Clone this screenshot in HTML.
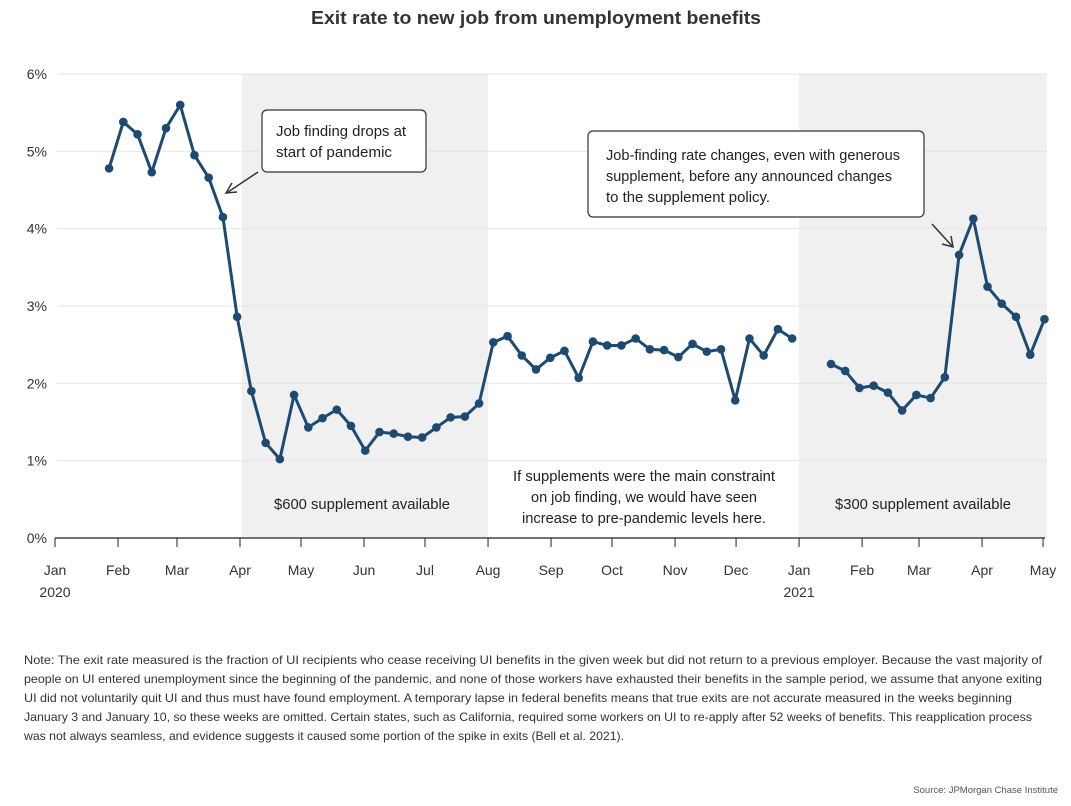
<!DOCTYPE html>
<html><head><meta charset="utf-8"><style>
body{margin:0;background:#fff;width:1071px;height:801px;overflow:hidden;font-family:"Liberation Sans",sans-serif;color:#333}
svg text{font-family:"Liberation Sans",sans-serif}
</style></head><body>
<svg id="c" width="1071" height="801">
<text x="536" y="24" text-anchor="middle" font-size="18" font-weight="bold" fill="#333" textLength="450" lengthAdjust="spacingAndGlyphs">Exit rate to new job from unemployment benefits</text>
<g id="plot"></g>
<g>
<rect x="262" y="110" width="164" height="62" rx="5" fill="#fff" stroke="#333" stroke-width="1.2"/>
<text x="276" y="136" font-size="14.5" fill="#222" textLength="130" lengthAdjust="spacingAndGlyphs">Job finding drops at</text>
<text x="276" y="157" font-size="14.5" fill="#222" textLength="116" lengthAdjust="spacingAndGlyphs">start of pandemic</text>
<line x1="258" y1="172" x2="228" y2="192" stroke="#333" stroke-width="1.5"/>
<polyline points="232,183 226,193 237,192" fill="none" stroke="#333" stroke-width="1.5"/>
</g>
<g>
<rect x="588" y="131" width="336" height="86" rx="5" fill="#fff" stroke="#333" stroke-width="1.2"/>
<text x="606" y="160" font-size="14.5" fill="#222" textLength="294" lengthAdjust="spacingAndGlyphs">Job-finding rate changes, even with generous</text>
<text x="606" y="181" font-size="14.5" fill="#222" textLength="286" lengthAdjust="spacingAndGlyphs">supplement, before any announced changes</text>
<text x="606" y="202" font-size="14.5" fill="#222" textLength="164" lengthAdjust="spacingAndGlyphs">to the supplement policy.</text>
<line x1="932" y1="224" x2="952" y2="246" stroke="#333" stroke-width="1.5"/>
<polyline points="942,244 953,247 951,236" fill="none" stroke="#333" stroke-width="1.5"/>
</g>
<text x="362" y="509" text-anchor="middle" font-size="14.5" fill="#222" textLength="176" lengthAdjust="spacingAndGlyphs">$600 supplement available</text>
<text x="923" y="509" text-anchor="middle" font-size="14.5" fill="#222" textLength="176" lengthAdjust="spacingAndGlyphs">$300 supplement available</text>
<g font-size="14.5" fill="#222" text-anchor="middle">
<text x="644" y="481" textLength="262" lengthAdjust="spacingAndGlyphs">If supplements were the main constraint</text>
<text x="644" y="502" textLength="226" lengthAdjust="spacingAndGlyphs">on job finding, we would have seen</text>
<text x="644" y="523" textLength="244" lengthAdjust="spacingAndGlyphs">increase to pre-pandemic levels here.</text>
</g>
<g font-size="12" fill="#333">
<text x="24" y="664" textLength="1018" lengthAdjust="spacingAndGlyphs">Note: The exit rate measured is the fraction of UI recipients who cease receiving UI benefits in the given week but did not return to a previous employer. Because the vast majority of</text>
<text x="24" y="683" textLength="1018" lengthAdjust="spacingAndGlyphs">people on UI entered unemployment since the beginning of the pandemic, and none of those workers have exhausted their benefits in the sample period, we assume that anyone exiting</text>
<text x="24" y="702" textLength="988" lengthAdjust="spacingAndGlyphs">UI did not voluntarily quit UI and thus must have found employment. A temporary lapse in federal benefits means that true exits are not accurate measured in the weeks beginning</text>
<text x="24" y="721" textLength="1008" lengthAdjust="spacingAndGlyphs">January 3 and January 10, so these weeks are omitted. Certain states, such as California, required some workers on UI to re-apply after 52 weeks of benefits. This reapplication process</text>
<text x="24" y="740" textLength="600" lengthAdjust="spacingAndGlyphs">was not always seamless, and evidence suggests it caused some portion of the spike in exits (Bell et al. 2021).</text>
</g>
<text x="1058" y="793" text-anchor="end" font-size="9.5" fill="#555">Source: JPMorgan Chase Institute</text>
</svg>
<script>
const yTicks=[0,1,2,3,4,5,6];
const monthLabels=["Jan","Feb","Mar","Apr","May","Jun","Jul","Aug","Sep","Oct","Nov","Dec","Jan","Feb","Mar","Apr","May"];
const monthDays=[0,31,60,91,121,152,182,213,244,274,305,335,366,397,425,456,486];
const series2020=[4.78,5.38,5.22,4.73,5.30,5.60,4.95,4.66,4.15,2.86,1.90,1.23,1.02,1.85,1.43,1.55,1.66,1.45,1.13,1.37,1.35,1.31,1.30,1.43,1.56,1.57,1.74,2.53,2.61,2.36,2.18,2.33,2.42,2.07,2.54,2.49,2.49,2.58,2.44,2.43,2.34,2.51,2.41,2.44,1.78,2.58,2.36,2.70,2.58];
const series2021=[2.25,2.16,1.94,1.97,1.88,1.65,1.85,1.81,2.08,3.66,4.13,3.25,3.03,2.86,2.37,2.83];
const firstDay=26.6, startDay2021=381.7;
const shaded=[[92,213],[366,488]];
const NS="http://www.w3.org/2000/svg";
const g=document.getElementById('plot');
const X=d=>55+d*2.033, Y=v=>538-v*77.33;
function mk(t,a){const e=document.createElementNS(NS,t);for(const k in a)e.setAttribute(k,a[k]);g.appendChild(e);return e;}
shaded.forEach(s=>{const r=mk('rect',{x:X(s[0]),y:Y(6),width:X(s[1])-X(s[0]),height:Y(0)-Y(6),fill:'#f0f0f0'});

});
yTicks.forEach(v=>{if(v>0){const l=mk('line',{x1:57,x2:1047,y1:Y(v),y2:Y(v),stroke:'#e6e6e6','stroke-width':1});

}
const t=mk('text',{x:47,y:Y(v)+5,'text-anchor':'end','font-size':14,fill:'#333'});t.textContent=v+'%';

});
const ax=mk('line',{x1:55,x2:1045,y1:Y(0),y2:Y(0),stroke:'#222','stroke-width':1.2});


monthDays.forEach((d,i)=>{const tk=mk('line',{x1:X(d),x2:X(d),y1:Y(0),y2:Y(0)+9,stroke:'#222'});


const t=mk('text',{x:X(d),y:575,'text-anchor':'middle','font-size':14,fill:'#333'});t.textContent=monthLabels[i];

});
[[0,'2020'],[366,'2021']].forEach(p=>{const t=mk('text',{x:X(p[0]),y:597,'text-anchor':'middle','font-size':14,fill:'#333'});t.textContent=p[1];

});
function draw(vals,start,name){const pts=vals.map((v,i)=>[X(start+7*i),Y(v)]);
const pl=mk('polyline',{points:pts.map(p=>p.join(',')).join(' '),fill:'none',stroke:'#1d4a73','stroke-width':3,'stroke-linejoin':'round'});


pts.forEach(p=>{const c=mk('circle',{cx:p[0],cy:p[1],r:4.3,fill:'#1d4a73'});

});}
draw(series2020,firstDay,'series-2020');
draw(series2021,startDay2021,'series-2021');
</script>
</body></html>
